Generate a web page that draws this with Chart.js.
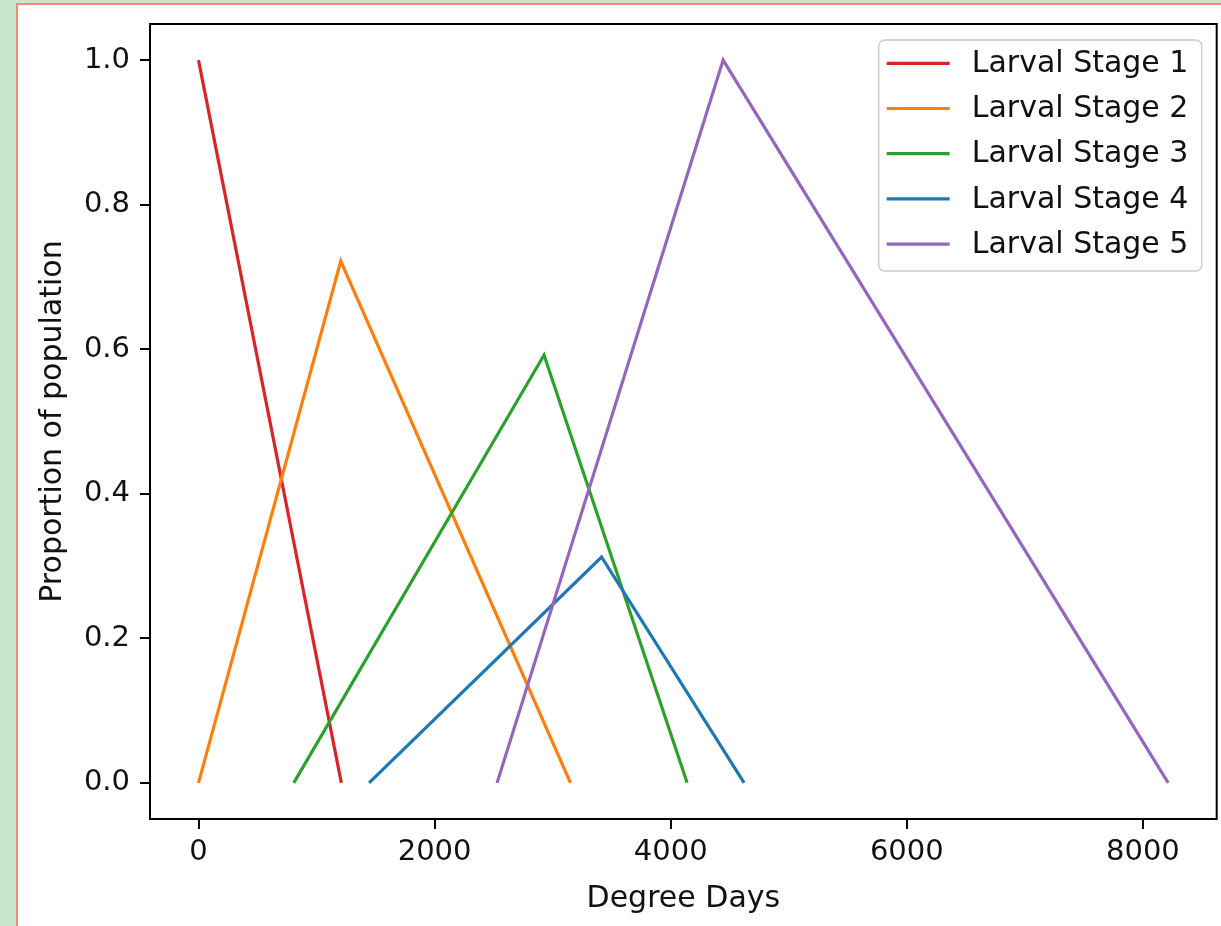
<!DOCTYPE html>
<html>
<head>
<meta charset="utf-8">
<script src="https://cdn.jsdelivr.net/npm/chart.js@4"></script>
<style>
  html, body { margin:0; padding:0; width:1221px; height:926px; overflow:hidden; background:#c9e5cb; }
  #panel { position:absolute; left:16px; top:3px; width:1230px; height:960px; background:#fff; border:2px solid #f08a7e; }
  #c { position:absolute; left:0; top:0; }
</style>
</head>
<body>
<div id="panel"></div>
<canvas id="c" width="1221" height="926"></canvas>
<script>
// ---- data ----
const seriesLabels = ['Larval Stage 1','Larval Stage 2','Larval Stage 3','Larval Stage 4','Larval Stage 5'];
const seriesColors = ['#d62728','#ff7f0e','#2ca02c','#1f77b4','#9467bd'];
const stage1X = [0, 1210];
const stage1Y = [1.0, 0.0];
const stage2X = [0, 1205, 3151];
const stage2Y = [0.0, 0.722, 0.0];
const stage3X = [807, 2927, 4139];
const stage3Y = [0.0, 0.592, 0.0];
const stage4X = [1445, 3414, 4622];
const stage4Y = [0.0, 0.3125, 0.0];
const stage5X = [2529, 4444, 8214];
const stage5Y = [0.0, 1.0, 0.0];
const xTicks = [0, 2000, 4000, 6000, 8000];
const yTicks = [0.0, 0.2, 0.4, 0.6, 0.8, 1.0];
const xTitle = 'Degree Days';
const yTitle = 'Proportion of population';

const allX = [stage1X, stage2X, stage3X, stage4X, stage5X];
const allY = [stage1Y, stage2Y, stage3Y, stage4Y, stage5Y];

const FONT = "'DejaVu Sans', sans-serif";
const FS = 29;
const FS_LAB = 30;

const datasets = seriesLabels.map((lab, i) => ({
  label: lab,
  data: allX[i].map((x, k) => ({x: x, y: allY[i][k]})),
  borderColor: seriesColors[i],
  backgroundColor: seriesColors[i],
  borderWidth: 3.2,
  pointRadius: 0,
  fill: false,
  tension: 0,
  order: seriesLabels.length - i
}));

const frameAndLegend = {
  id: 'frameAndLegend',
  afterDatasetsDraw(chart) {
    const ctx = chart.ctx, a = chart.chartArea;
    ctx.save();
    // frame (spines)
    ctx.strokeStyle = '#000';
    ctx.lineWidth = 2;
    ctx.strokeRect(a.left, a.top, a.right - a.left, a.bottom - a.top);
    // legend box
    const bw = 323, bh = 231;
    const bx = a.right - 15 - bw, by = a.top + 16;
    const r = 6;
    ctx.beginPath();
    ctx.moveTo(bx + r, by);
    ctx.arcTo(bx + bw, by, bx + bw, by + bh, r);
    ctx.arcTo(bx + bw, by + bh, bx, by + bh, r);
    ctx.arcTo(bx, by + bh, bx, by, r);
    ctx.arcTo(bx, by, bx + bw, by, r);
    ctx.closePath();
    ctx.fillStyle = 'rgba(255,255,255,0.8)';
    ctx.fill();
    ctx.strokeStyle = '#cccccc';
    ctx.lineWidth = 1.5;
    ctx.stroke();
    ctx.font = FS_LAB + 'px ' + FONT;
    ctx.textBaseline = 'middle';
    ctx.textAlign = 'left';
    chart.data.datasets.forEach((ds, i) => {
      const y = by + 23.3 + i * 45.2;
      ctx.strokeStyle = ds.borderColor;
      ctx.lineWidth = 3.2;
      ctx.beginPath();
      ctx.moveTo(bx + 8, y);
      ctx.lineTo(bx + 71, y);
      ctx.stroke();
      ctx.fillStyle = '#111';
      ctx.fillText(ds.label, bx + 93, y + 1);
    });
    ctx.restore();
  }
};

new Chart(document.getElementById('c'), {
  type: 'line',
  data: { datasets },
  options: {
    responsive: false,
    animation: false,
    devicePixelRatio: 1,
    parsing: true,
    layout: { padding: { left: 0, top: 24, right: 4.3, bottom: 0 } },
    plugins: { legend: { display: false }, tooltip: { enabled: false } },
    scales: {
      x: {
        type: 'linear',
        min: -411,
        max: 8625,
        afterBuildTicks: s => { s.ticks = xTicks.map(v => ({value: v})); },
        afterFit: s => { s.height = 107; s.paddingLeft = 0; s.paddingRight = 0; },
        border: { display: false },
        grid: { drawOnChartArea: false, drawTicks: true, tickLength: 10, color: '#000', lineWidth: 2 },
        ticks: { color: '#111', font: { family: FONT, size: FS }, padding: 6, maxRotation: 0,
                 callback: v => String(v) },
        title: { display: true, text: xTitle, color: '#111', font: { family: FONT, size: FS_LAB }, padding: { top: 0, bottom: 9 } }
      },
      y: {
        type: 'linear',
        min: -0.05,
        max: 1.05,
        afterBuildTicks: s => { s.ticks = yTicks.map(v => ({value: v})); },
        afterFit: s => { s.width = 150; s.paddingTop = 0; s.paddingBottom = 0; },
        border: { display: false },
        grid: { drawOnChartArea: false, drawTicks: true, tickLength: 10, color: '#000', lineWidth: 2 },
        ticks: { color: '#111', font: { family: FONT, size: FS }, padding: 10,
                 callback: v => Number(v).toFixed(1) },
        title: { display: true, text: yTitle, color: '#111', font: { family: FONT, size: FS_LAB }, padding: { top: 35, bottom: 0 } }
      }
    }
  },
  plugins: [frameAndLegend]
});
</script>
</body>
</html>
